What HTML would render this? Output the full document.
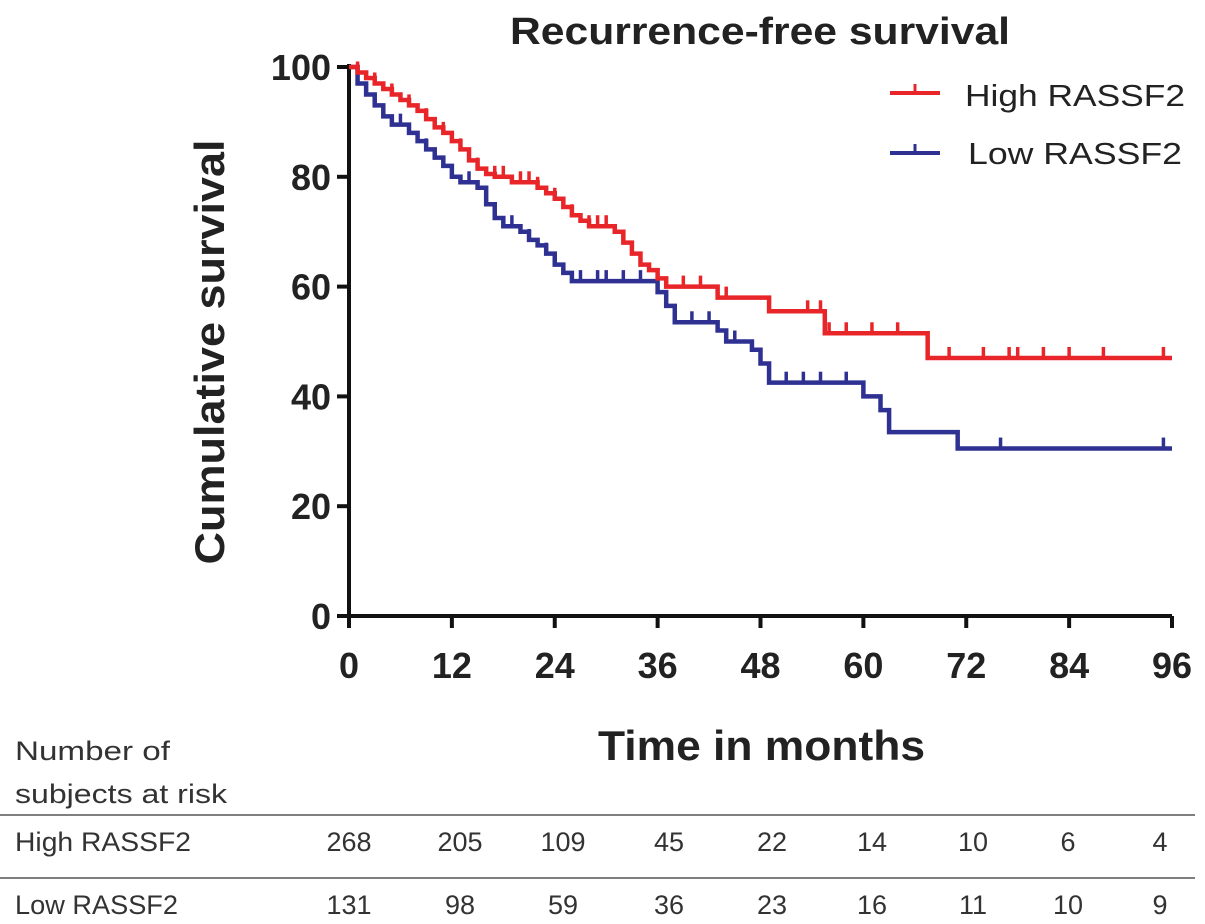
<!DOCTYPE html>
<html><head><meta charset="utf-8"><style>
body{margin:0;background:#fff}
svg{display:block}
.t{font-family:"Liberation Sans",sans-serif;font-weight:bold;fill:#222}
.r{font-family:"Liberation Sans",sans-serif;fill:#333;font-size:27px}
</style></head><body>
<svg id="c" width="1205" height="924">
<text class="t" x="510" y="44" font-size="38" textLength="500" lengthAdjust="spacingAndGlyphs">Recurrence-free survival</text>
<text class="t" transform="translate(224,352) rotate(-90)" font-size="42" text-anchor="middle" textLength="425" lengthAdjust="spacingAndGlyphs">Cumulative survival</text>
<text class="t" x="598" y="760" font-size="42" textLength="327" lengthAdjust="spacingAndGlyphs">Time in months</text>
<g id="axes"></g>
<g id="curves"></g>
<g>
<line x1="890" y1="93" x2="940" y2="93" stroke="#e8262a" stroke-width="4"/>
<line x1="915" y1="93" x2="915" y2="84" stroke="#e8262a" stroke-width="3"/>
<text x="965" y="106" font-family="Liberation Sans,sans-serif" font-size="31" fill="#222" textLength="220" lengthAdjust="spacingAndGlyphs">High RASSF2</text>
<line x1="890" y1="153" x2="940" y2="153" stroke="#2e3192" stroke-width="4"/>
<line x1="915" y1="153" x2="915" y2="144" stroke="#2e3192" stroke-width="3"/>
<text x="968" y="164" font-family="Liberation Sans,sans-serif" font-size="31" fill="#222" textLength="214" lengthAdjust="spacingAndGlyphs">Low RASSF2</text>
</g>
<g>
<text class="r" x="15" y="760" textLength="155" lengthAdjust="spacingAndGlyphs">Number of</text>
<text class="r" x="15" y="803" textLength="212" lengthAdjust="spacingAndGlyphs">subjects at risk</text>
<line x1="0" y1="815" x2="1195" y2="815" stroke="#555" stroke-width="1.5"/>
<text class="r" x="15" y="851" textLength="176" lengthAdjust="spacingAndGlyphs">High RASSF2</text>
<line x1="0" y1="878" x2="1195" y2="878" stroke="#555" stroke-width="1.5"/>
<text class="r" x="15" y="914" textLength="163" lengthAdjust="spacingAndGlyphs">Low RASSF2</text>
<g id="riskvals"></g>
</g>
</svg>
<script>
const xTicks=[0,12,24,36,48,60,72,84,96];
const yTicks=[0,20,40,60,80,100];
const highT=[0,1,2,3,4,5,6,7,8,9,10,11,12,13,14,15,16,17,19,22,23,24,25,26,27,28,31,32,33,34,35,36,37,43,49,55.5,67.5];
const highS=[100,99,98,97,96,95,94,93,92,90.5,89,88,86.5,85,83,81.5,80.5,80,79,78,77,76,74.5,73,72,71,70,68,66,64,63,61.5,60,58,55.5,51.5,47];
const lowT=[0,1,2,3,4,5,7,8,9,10,11,12,13,15,16,17,18,20,21,22,23,24,25,26,36,37,38,43,44,47,48,49,60,62,63,71];
const lowS=[100,97,95,93,91,89.5,88,86.5,85,83.5,82,80,79,78,75,72.5,71,70,68.5,67.5,66,64,62.5,61,59,56.5,53.5,52,50,48.5,46,42.5,40,37.5,33.5,30.5];
const highCens=[1,3,5,7,9,11,13,15,17,18,20,21,22,24,26,28,29,30,32,34,39,41,44,53.5,55,56,58,61,64,70,74,77,78,81,84,88,95];
const lowCens=[2,4,6,9,12,14,16,19,21,23,27,29,30,32,34,40,42,45,51,53,55,58,62,76,95];
const riskHigh=[268,205,109,45,22,14,10,6,4];
const riskLow=[131,98,59,36,23,16,11,10,9];
const X=t=>349+t*823/96, Y=s=>616-s*549/100;
const NS="http://www.w3.org/2000/svg";
function mk(tag,attrs,parent){const e=document.createElementNS(NS,tag);for(const k in attrs)e.setAttribute(k,attrs[k]);parent.appendChild(e);return e;}
const ax=document.getElementById('axes');
let a=mk('path',{d:`M${X(0)},${Y(100)-3}V${Y(0)}H${X(96)}`,fill:'none',stroke:'#111','stroke-width':4},ax);

xTicks.forEach(t=>{mk('line',{x1:X(t),x2:X(t),y1:Y(0),y2:Y(0)+12,stroke:'#111','stroke-width':4},ax);
 const e=mk('text',{x:X(t),y:678,'text-anchor':'middle','font-size':36,class:'t'},ax);e.textContent=t;
 });
yTicks.forEach(s=>{mk('line',{x1:X(0)-12,x2:X(0),y1:Y(s),y2:Y(s),stroke:'#111','stroke-width':4},ax);
 const e=mk('text',{x:331,y:Y(s)+13,'text-anchor':'end','font-size':36,class:'t'},ax);e.textContent=s;
 });
function valAt(T,S,t){let v=S[0];for(let i=0;i<T.length;i++)if(T[i]<=t)v=S[i];return v;}
function curve(T,S,C,col,name){const g=document.getElementById('curves');
 let d=`M${X(T[0])},${Y(S[0])}`;for(let i=1;i<T.length;i++)d+=`H${X(T[i])}V${Y(S[i])}`;d+=`H${X(96)}`;
 const p=mk('path',{d,fill:'none',stroke:col,'stroke-width':4.5},g);
 
 C.forEach(t=>{const l=mk('line',{x1:X(t),x2:X(t),y1:Y(valAt(T,S,t)),y2:Y(valAt(T,S,t))-11,stroke:col,'stroke-width':3.5},g);
  });}
curve(lowT,lowS,lowCens,'#2e3192','low-rassf2-curve');
curve(highT,highS,highCens,'#e8262a','high-rassf2-curve');
const rv=document.getElementById('riskvals');
const cols=[349,460,563,669,772,872,973,1068,1160];
riskHigh.forEach((v,i)=>{const e=mk('text',{x:cols[i],y:851,'text-anchor':'middle',class:'r'},rv);e.textContent=v;
 });
riskLow.forEach((v,i)=>{const e=mk('text',{x:cols[i],y:914,'text-anchor':'middle',class:'r'},rv);e.textContent=v;
 });
</script>
</body></html>
